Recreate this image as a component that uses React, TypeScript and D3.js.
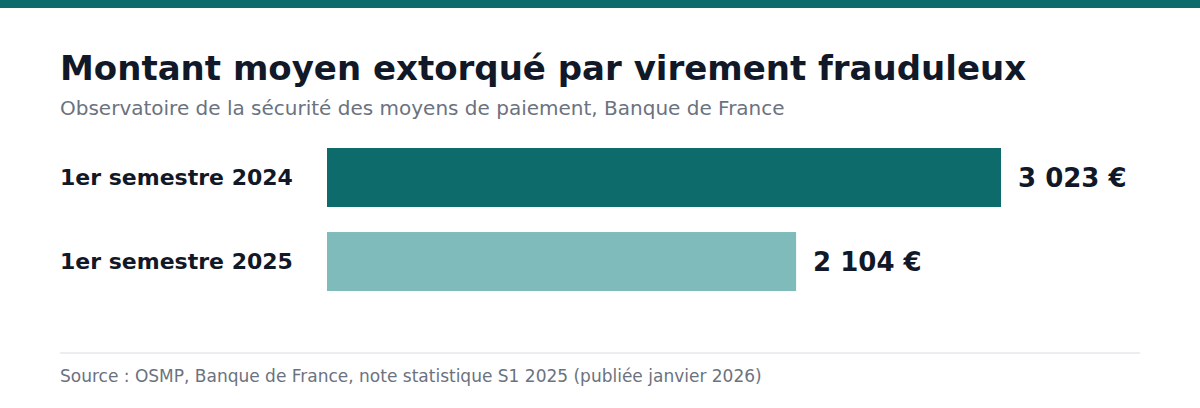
import { useEffect } from 'react';
import * as d3 from 'd3';

const periods = ['1er semestre 2024', '1er semestre 2025'];
const amounts = [3023, 2104];
const barColors = ['#0d6b6b', '#80bbbb'];

const title = 'Montant moyen extorqué par virement frauduleux';
const subtitle = 'Observatoire de la sécurité des moyens de paiement, Banque de France';
const source = 'Source : OSMP, Banque de France, note statistique S1 2025 (publiée janvier 2026)';

const W = 1200;
const H = 408;
const FONT = '"DejaVu Sans", Verdana, sans-serif';

// "3 023 €" style, with a plain space as thousands separator
const fmt = (v: number) =>
  d3.format(',')(v).replace(/,/g, ' ') + ' €';

export default function App() {
  useEffect(() => {
    document.body.style.margin = '0';
  }, []);

  const x = d3.scaleLinear().domain([0, d3.max(amounts) as number]).range([327, 1001]);
  const y = d3.scaleBand<string>().domain(periods).range([148, 291]).paddingInner(0.298);

  return (
    <svg width={W} height={H} style={{ display: 'block', fontFamily: FONT }}>
      <rect x={0} y={0} width={W} height={H} fill="#ffffff" />
      {/* accent strip */}
      <rect x={0} y={0} width={W} height={8} fill="#0d6b6b" />

      <text x={60} y={80} fontSize={34} fontWeight="bold" fill="#111827">
        {title}
      </text>
      <text x={60} y={115} fontSize={20} fill="#6b7280">
        {subtitle}
      </text>

      {periods.map((p, i) => {
        const y0 = y(p) as number;
        const cy = y0 + y.bandwidth() / 2;
        return (
          <g key={p}>
            <text
              x={60}
              y={cy}
              dy="0.35em"
              fontSize={22}
              fontWeight="bold"
              fill="#111827"
            >
              {p}
            </text>
            <rect
              x={x(0)}
              y={y0}
              width={x(amounts[i]) - x(0)}
              height={y.bandwidth()}
              fill={barColors[i]}
            />
            <text
              x={x(amounts[i]) + 17}
              y={cy}
              dy="0.35em"
              fontSize={26}
              fontWeight="bold"
              fill="#111827"
            >
              {fmt(amounts[i])}
            </text>
          </g>
        );
      })}

      <line x1={60} x2={1140} y1={353} y2={353} stroke="#e5e7eb" strokeWidth={1.5} />
      <text x={60} y={382} fontSize={17} fill="#6b7280">
        {source}
      </text>
    </svg>
  );
}
